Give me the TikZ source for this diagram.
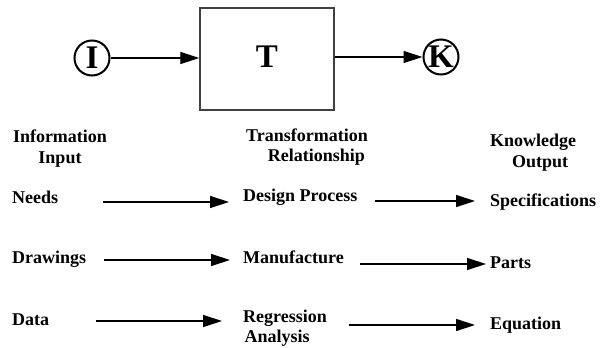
\documentclass[tikz,border=0pt]{standalone}
\usepackage{fontspec}
\setmainfont{Liberation Serif}
\usetikzlibrary{arrows.meta}
\begin{document}
\begin{tikzpicture}[x=1pt,y=-1pt,
  lbl/.style={font=\bfseries\fontsize{18}{20.5}\selectfont, inner sep=0pt},
  big/.style={font=\bfseries\fontsize{33}{35}\selectfont, inner sep=0pt},
  symb/.style={big, circle, draw, line width=2pt, minimum size=35pt},
  flow/.style={line width=1.3pt, -{Triangle[length=19pt,width=12pt]}},
  tbox/.style={draw=black!75, line width=1.4pt, minimum width=134pt, minimum height=102pt, inner sep=0pt}]
\useasboundingbox (0,0) rectangle (600,348);

% top row: input -> transformation -> output
\node[symb] (I) at (92,58) {I};
\node[tbox] (T) at (267,59) {};
\node[big] (Tl) at (267,57) {T};
\node[symb] (K) at (441,57) {K};
\draw[flow] (I) -- (I -| T.west);
\draw[flow] (T.east |- K) -- (K);

% column headings (anchored on the baseline of their last line)
\node[lbl, align=center, anchor=base] (hin) at (60,163) {Information\\Input};
\node[lbl, align=right, anchor=base east] (htr) at (368,161.7) {Transformation\\Relationship\hspace*{3pt}};
\node[lbl, align=center, anchor=base west] (hout) at (490,167) {Knowledge\\\hspace*{14pt}Output};

% left column
\node[lbl, anchor=base west] (needs) at (12,203) {Needs};
\node[lbl, anchor=base west] (draw) at (12,263.5) {Drawings};
\node[lbl, anchor=base west] (data) at (12,325) {Data};

% middle column
\node[lbl, anchor=base west] (design) at (243,201.7) {Design Process};
\node[lbl, anchor=base west] (manu) at (243,263.3) {Manufacture};
\node[lbl, align=left, anchor=base west] (regr) at (243,342.7) {Regression\\\hspace{1.5pt}Analysis};

% right column
\node[lbl, anchor=base west] (spec) at (490,206) {Specifications};
\node[lbl, anchor=base west] (parts) at (490,268) {Parts};
\node[lbl, anchor=base west] (eqn) at (490,329) {Equation};

% arrow ends
\coordinate (a1) at (103,202);   \coordinate (b1) at (229,202);
\coordinate (a2) at (104,260);   \coordinate (b2) at (230,260);
\coordinate (a3) at (96,321);    \coordinate (b3) at (222,321);
\coordinate (c1) at (375,201);   \coordinate (d1) at (475,201);
\coordinate (c2) at (360,264);   \coordinate (d2) at (486,264);
\coordinate (c3) at (349,325);   \coordinate (d3) at (475,325);

\draw[flow] (a1) -- (b1);
\draw[flow] (a2) -- (b2);
\draw[flow] (a3) -- (b3);
\draw[flow] (c1) -- (d1);
\draw[flow] (c2) -- (d2);
\draw[flow] (c3) -- (d3);
\end{tikzpicture}
\end{document}
